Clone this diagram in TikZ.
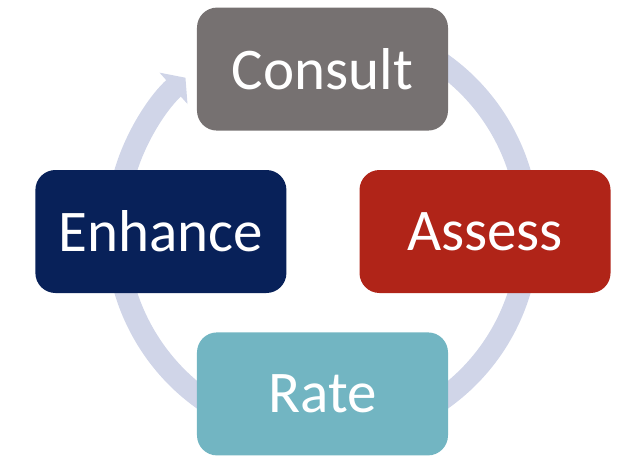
\documentclass[tikz,border=0pt]{standalone}
\usepackage{fontspec}
\setmainfont{Carlito}
\usepackage{tikz}
\usetikzlibrary{arrows.meta}
\definecolor{consultgray}{RGB}{118,113,113}
\definecolor{assessred}{RGB}{176,36,24}
\definecolor{ratecyan}{RGB}{114,181,194}
\definecolor{enhancenavy}{RGB}{8,33,89}
\definecolor{ringblue}{RGB}{208,213,232}
\tikzstyle{phase} = [rectangle, rounded corners=0.5cm, minimum width=6.275cm, minimum height=3.075cm, text centered, text=white, font=\fontsize{42}{50}\selectfont]
\tikzstyle{ring} = [draw=ringblue, line width=0.55cm, -{Triangle[width=1.03cm, length=0.4cm]}]
\begin{document}
\begin{tikzpicture}[node distance=4.06cm]
		\useasboundingbox (-8.0625,-5.7875) rectangle (7.9375,5.7875);
		\coordinate (hub) at (0,0);
		\draw [ring] ([shift={(70:5.15cm)}]hub) arc[start angle=70, end angle=-228.3, radius=5.15cm];
		\node (consult) [phase, fill=consultgray, above of=hub] {Consult};
		\node (assess) [phase, fill=assessred, right of=hub, xshift=0.003cm] {Assess};
		\node (rate) [phase, fill=ratecyan, below of=hub] {Rate};
		\node (enhance) [phase, fill=enhancenavy, left of=hub, xshift=0.02cm] {Enhance};
		\end{tikzpicture}
\end{document}
